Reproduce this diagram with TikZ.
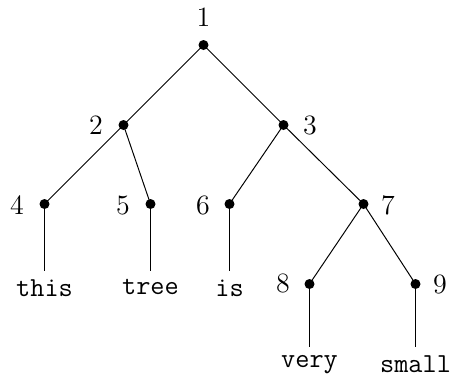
\documentclass[tikz,border=0pt]{standalone}
\begin{document}
\begin{tikzpicture}[x=0.429pt,y=-0.429pt,
  dot/.style={circle,fill=black,inner sep=0pt,minimum size=10*0.429pt},
  lbl/.style={inner sep=0pt,font=\fontsize{12pt}{14pt}\selectfont},
  leaf/.style={anchor=north,inner sep=3.5pt,font=\fontsize{11.8pt}{14pt}\selectfont\ttfamily},
  edge/.style={line width=0.42pt}]
\useasboundingbox (0,0) rectangle (450,378);
% dots
\node[dot] (n1) at (203.5,45) {};
\node[dot] (n2) at (123.5,125) {};
\node[dot] (n3) at (283.5,125) {};
\node[dot] (n4) at (44.5,204) {};
\node[dot] (n5) at (150.5,204) {};
\node[dot] (n6) at (229.5,204) {};
\node[dot] (n7) at (363.5,204) {};
\node[dot] (n8) at (309.5,284) {};
\node[dot] (n9) at (415.5,284) {};
% labels
\node[lbl] (l1) at (203.5,17) {1};
\node[lbl] (l2) at (96,125) {2};
\node[lbl] (l3) at (310,125) {3};
\node[lbl] (l4) at (17,205) {4};
\node[lbl] (l5) at (123,205) {5};
\node[lbl] (l6) at (203,205) {6};
\node[lbl] (l7) at (388,205) {7};
\node[lbl] (l8) at (283,283) {8};
\node[lbl] (l9) at (440,284) {9};
% leaves
\node[leaf] (t4) at (44.5,271) {this};
\node[leaf] (t5) at (150.5,271) {tree};
\node[leaf] (t6) at (229.5,271) {is};
\node[leaf] (t8) at (309.5,347) {very};
\node[leaf] (t9) at (415.5,347) {small};
% edges
\draw[edge] (n1.center) -- (n2.center);
\draw[edge] (n1.center) -- (n3.center);
\draw[edge] (n2.center) -- (n4.center);
\draw[edge] (n2.center) -- (n5.center);
\draw[edge] (n3.center) -- (n6.center);
\draw[edge] (n3.center) -- (n7.center);
\draw[edge] (n7.center) -- (n8.center);
\draw[edge] (n7.center) -- (n9.center);
\draw[edge] (n4.center) -- (t4.north);
\draw[edge] (n5.center) -- (t5.north);
\draw[edge] (n6.center) -- (t6.north);
\draw[edge] (n8.center) -- (t8.north);
\draw[edge] (n9.center) -- (t9.north);
\end{tikzpicture}
\end{document}
